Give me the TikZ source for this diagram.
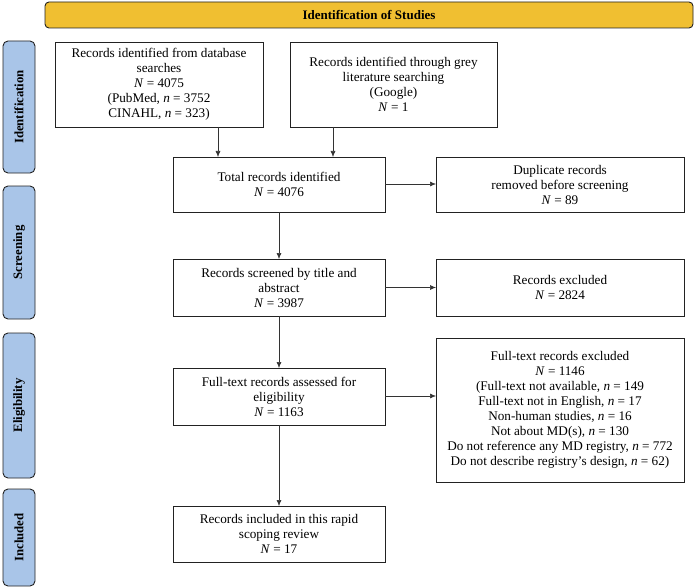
\documentclass[tikz,border=0pt]{standalone}
\usepackage{fontspec}
\setmainfont{Liberation Serif}
\usetikzlibrary{arrows.meta}
\definecolor{banneryellow}{HTML}{F0BF31}
\definecolor{sideblue}{HTML}{A9C5E8}
\definecolor{edgedark}{HTML}{222222}
\begin{document}
\begin{tikzpicture}[x=1pt,y=-1pt,
  every node/.style={inner sep=0pt, outer sep=0pt},
  flowbox/.style={draw=edgedark, line width=0.9pt, fill=white, align=center,
    font=\rmfamily\fontsize{13.2}{15}\selectfont},
  banner/.style={draw=edgedark, line width=0.9pt, fill=banneryellow, rounded corners=4pt,
    font=\rmfamily\fontsize{13}{14}\selectfont\bfseries},
  sidebox/.style={draw=edgedark, line width=0.9pt, fill=sideblue, rounded corners=5pt,
    rotate=90, minimum height=32pt, font=\rmfamily\fontsize{12.8}{14}\selectfont\bfseries},
  arr/.style={draw=black!80, line width=0.6pt, -{Latex[length=6pt,width=5pt]}}]
\useasboundingbox (0,0) rectangle (695,588);
% banner
\node[banner, minimum width=648pt, minimum height=26pt] (ban) at (369,15) {Identification of Studies};
% side labels
\node[sidebox, minimum width=132pt] (sid) at (19,107) {Identification};
\node[sidebox, minimum width=133pt] (sscr) at (19,252.5) {Screening};
\node[sidebox, minimum width=145pt] (seli) at (19,405.5) {Eligibility};
\node[sidebox, minimum width=97pt] (sinc) at (19,537.5) {Included};
% boxes
\node[flowbox, minimum width=208pt, minimum height=85pt] (db) at (159,84.5)
  {Records identified from database\\searches\\\textit{N} = 4075\\(PubMed, \textit{n} = 3752\\CINAHL, \textit{n} = 323)};
\node[flowbox, minimum width=207pt, minimum height=85pt] (grey) at (393.5,84.5)
  {Records identified through grey\\literature searching\\(Google)\\\textit{N} = 1};
\node[flowbox, minimum width=212pt, minimum height=55pt] (tot) at (279,184.5)
  {Total records identified\\\textit{N} = 4076};
\node[flowbox, minimum width=248pt, minimum height=55pt] (dup) at (560,184.5)
  {Duplicate records\\removed before screening\\\textit{N} = 89};
\node[flowbox, minimum width=212pt, minimum height=57pt] (scr) at (279,287.5)
  {Records screened by title and\\abstract\\\textit{N} = 3987};
\node[flowbox, minimum width=248pt, minimum height=57pt] (exc) at (560,287.5)
  {Records excluded\\\textit{N} = 2824};
\node[flowbox, minimum width=212pt, minimum height=57pt] (ft) at (279,396.5)
  {Full-text records assessed for\\eligibility\\\textit{N} = 1163};
\node[flowbox, minimum width=248pt, minimum height=144pt] (ftx) at (560,410)
  {Full-text records excluded\\\textit{N} = 1146\\(Full-text not available, \textit{n} = 149\\Full-text not in English, \textit{n} = 17\\Non-human studies, \textit{n} = 16\\Not about MD(s), \textit{n} = 130\\Do not reference any MD registry, \textit{n} = 772\\Do not describe registry’s design, \textit{n} = 62)};
\node[flowbox, minimum width=212pt, minimum height=56pt] (inc) at (279,534)
  {Records included in this rapid\\scoping review\\\textit{N} = 17};
% connector helpers
\coordinate (xa) at (218,0);
\coordinate (xb) at (333,0);
\coordinate (yd) at (0,184);
\coordinate (yf) at (0,396);
% connectors
\draw[arr] (db.south -| xa) -- (tot.north -| xa);
\draw[arr] (grey.south -| xb) -- (tot.north -| xb);
\draw[arr] (tot.east |- yd) -- (dup.west |- yd);
\draw[arr] (tot) -- (scr);
\draw[arr] (scr) -- (exc);
\draw[arr] (ft.east |- yf) -- (ftx.west |- yf);
\draw[arr] (scr) -- (ft);
\draw[arr] (ft) -- (inc);
\end{tikzpicture}
\end{document}
